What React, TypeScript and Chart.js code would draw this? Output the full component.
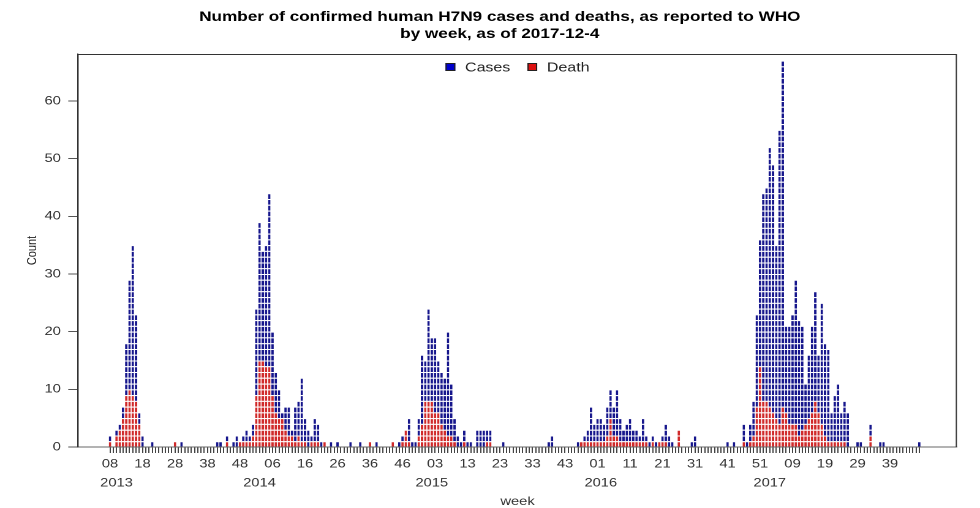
import React, { useEffect, useRef } from "react";
import { Chart, registerables } from "chart.js";
Chart.register(...registerables);

// ---------------- data ----------------
const YEARS = [2013, 2014, 2015, 2016, 2017];
const FIRST_WEEK = [8, 1, 1, 1, 1];
const LAST_WEEK = [52, 53, 52, 52, 48];
const YEAR_LABEL_WEEK = [10, 2, 2, 2, 2];

const cases2013 = [2, 0, 3, 4, 7, 18, 29, 35, 23, 6, 2, 0, 0, 1, 0, 0, 0, 0, 0, 0, 1, 0, 1, 0, 0, 0, 0, 0, 0, 0, 0, 0, 0, 1, 1, 0, 2, 0, 1, 2, 1, 2, 3, 2, 4];
const deaths2013 = [1, 0, 2, 3, 5, 9, 10, 9, 8, 4, 0, 0, 0, 0, 0, 0, 0, 0, 0, 0, 1, 0, 0, 0, 0, 0, 0, 0, 0, 0, 0, 0, 0, 0, 0, 0, 1, 0, 0, 0, 1, 1, 1, 1, 2];

const cases2014 = [24, 39, 34, 35, 44, 20, 13, 10, 6, 7, 7, 3, 7, 8, 12, 5, 3, 2, 5, 4, 1, 1, 0, 1, 0, 1, 0, 0, 0, 1, 0, 0, 1, 0, 0, 1, 0, 1, 0, 0, 0, 0, 1, 0, 1, 2, 3, 5, 1, 1, 5, 16, 15];
const deaths2014 = [9, 15, 15, 14, 14, 9, 6, 5, 5, 3, 2, 2, 1, 2, 1, 1, 0, 1, 1, 1, 0, 1, 0, 0, 0, 0, 0, 0, 0, 0, 0, 0, 0, 0, 0, 1, 0, 0, 0, 0, 0, 0, 1, 0, 0, 1, 3, 1, 0, 0, 2, 4, 8];

const cases2015 = [24, 19, 19, 15, 13, 12, 20, 11, 5, 2, 1, 3, 1, 1, 0, 3, 3, 3, 3, 3, 0, 0, 0, 1, 0, 0, 0, 0, 0, 0, 0, 0, 0, 0, 0, 0, 0, 1, 2, 0, 0, 0, 0, 0, 0, 0, 1, 1, 2, 3, 7, 4];
const deaths2015 = [8, 8, 6, 6, 4, 3, 2, 2, 1, 0, 0, 1, 0, 0, 0, 0, 0, 0, 1, 1, 0, 0, 0, 0, 0, 0, 0, 0, 0, 0, 0, 0, 0, 0, 0, 0, 0, 0, 0, 0, 0, 0, 0, 0, 0, 0, 0, 1, 1, 1, 1, 1];

const cases2016 = [5, 5, 4, 7, 10, 7, 10, 5, 3, 4, 5, 3, 3, 2, 5, 2, 1, 2, 1, 1, 2, 4, 2, 1, 0, 3, 0, 0, 0, 1, 2, 0, 0, 0, 0, 0, 0, 0, 0, 0, 1, 0, 1, 0, 0, 4, 1, 4, 8, 23, 36, 44];
const deaths2016 = [1, 1, 1, 2, 5, 2, 2, 1, 1, 1, 1, 1, 1, 1, 1, 1, 0, 1, 0, 1, 1, 1, 0, 0, 0, 3, 0, 0, 0, 0, 0, 0, 0, 0, 0, 0, 0, 0, 0, 0, 0, 0, 0, 0, 0, 1, 0, 1, 2, 7, 14, 8];

const cases2017 = [45, 52, 49, 35, 55, 67, 21, 21, 23, 29, 22, 21, 11, 16, 21, 27, 16, 25, 18, 17, 6, 9, 11, 6, 8, 6, 0, 0, 1, 1, 0, 0, 4, 0, 0, 1, 1, 0, 0, 0, 0, 0, 0, 0, 0, 0, 0, 1];
const deaths2017 = [8, 7, 6, 5, 4, 7, 6, 4, 4, 4, 2, 3, 4, 5, 6, 8, 6, 4, 2, 1, 1, 1, 1, 1, 1, 0, 0, 0, 0, 0, 0, 0, 2, 0, 0, 0, 0, 0, 0, 0, 0, 0, 0, 0, 0, 0, 0, 0];

const Y_TICKS = [0, 10, 20, 30, 40, 50, 60];
const TITLE_LINES = ["Number of confirmed human H7N9 cases and deaths, as reported to WHO", "by week, as of 2017-12-4"];
const LEGEND_LABELS = ["Cases", "Death"];

// ---------------- derived ----------------
const cases = [...cases2013, ...cases2014, ...cases2015, ...cases2016, ...cases2017];
const deaths = [...deaths2013, ...deaths2014, ...deaths2015, ...deaths2016, ...deaths2017];
const weekLabels: string[] = [];
const yearTicks: { value: number; label: string }[] = [];
YEARS.forEach((yr, j) => {
  for (let w = FIRST_WEEK[j]; w <= LAST_WEEK[j]; w++) {
    if (w === YEAR_LABEL_WEEK[j]) yearTicks.push({ value: weekLabels.length, label: String(yr) });
    weekLabels.push(String(w).padStart(2, "0"));
  }
});

const BLUE = "#16168c";
const RED = "#d02a2a";
const FONT = "'Liberation Sans', Arial, Helvetica, sans-serif";
const CW = 800; // canvas logical width (displayed stretched to 980)
const CH = 508;
const X_MIN = -9.84;
const X_MAX = 260.6;
const Y_MAX = 68.15;

const levels = Math.max(...cases, ...deaths);
const datasets: any[] = [];
for (let k = 1; k <= levels; k++) {
  datasets.push({
    label: "u" + k,
    data: cases.map((c, i) => ({ x: i, y: Math.max(c, deaths[i]) >= k ? 1 : null })),
    backgroundColor: cases.map((_, i) => (deaths[i] >= k ? RED : BLUE)),
    borderColor: "#ffffff",
    borderWidth: { top: 1, left: 0, right: 0, bottom: 0 },
    borderSkipped: false,
    inflateAmount: 0,
    barPercentage: 1,
    categoryPercentage: 0.75,
  });
}

const decorPlugin = {
  id: "decor",
  afterDraw(chart: any) {
    const { ctx, chartArea: ca } = chart;
    ctx.save();
    // frame
    ctx.strokeStyle = "#333";
    ctx.lineWidth = 1;
    ctx.beginPath();
    ctx.moveTo(ca.left, ca.bottom);
    ctx.lineTo(ca.left, ca.top + 0.5);
    ctx.lineTo(ca.right - 0.5, ca.top + 0.5);
    ctx.lineTo(ca.right - 0.5, ca.bottom);
    ctx.stroke();
    // title
    ctx.fillStyle = "#000";
    ctx.font = `bold 14px ${FONT}`;
    ctx.textAlign = "center";
    ctx.textBaseline = "middle";
    ctx.fillText(TITLE_LINES[0], 408, 17);
    ctx.fillText(TITLE_LINES[1], 408, 34);
    // legend
    ctx.font = `13px ${FONT}`;
    ctx.textAlign = "left";
    const sq = 8, gap = 8, between = 14;
    const w0 = ctx.measureText(LEGEND_LABELS[0]).width;
    const w1 = ctx.measureText(LEGEND_LABELS[1]).width;
    const total = sq + gap + w0 + between + sq + gap + w1;
    let x = (ca.left + ca.right) / 2 - total / 2;
    const y = 67;
    const colors = ["#0000cc", "#dd1111"];
    [w0, w1].forEach((tw, idx) => {
      ctx.fillStyle = colors[idx];
      ctx.fillRect(x, y - sq / 2, sq, sq);
      ctx.strokeStyle = "#222";
      ctx.strokeRect(x + 0.5, y - sq / 2 + 0.5, sq - 1, sq - 1);
      ctx.fillStyle = "#222";
      ctx.fillText(LEGEND_LABELS[idx], x + sq + gap, y + 1);
      x += sq + gap + tw + between;
    });
    ctx.restore();
  },
};

export default function App() {
  const ref = useRef<HTMLCanvasElement>(null);
  useEffect(() => {
    if (!ref.current) return;
    const chart = new Chart(ref.current, {
      type: "bar",
      data: { datasets },
      options: {
        animation: false,
        responsive: false,
        devicePixelRatio: 2,
        events: [],
        layout: { padding: { top: 54, right: 18.8, left: 0, bottom: 0 } },
        plugins: { legend: { display: false }, tooltip: { enabled: false }, title: { display: false } },
        scales: {
          x: {
            type: "linear",
            min: X_MIN,
            max: X_MAX,
            stacked: true,
            offset: false,
            afterBuildTicks: (s: any) => {
              s.ticks = weekLabels.map((_, i) => ({ value: i }));
            },
            afterFit: (s: any) => {
              s.height = 24;
            },
            ticks: {
              autoSkip: false,
              maxRotation: 0,
              minRotation: 0,
              padding: 4,
              color: "#333",
              font: { size: 12, family: FONT },
              callback: (_v: any, i: number) => (i % 10 === 0 ? weekLabels[i] : ""),
            },
            grid: { display: true, offset: false, drawOnChartArea: false, drawTicks: true, tickLength: 6, color: "#444", lineWidth: 1 },
            border: { display: true, color: "#666", width: 1 },
          },
          x2: {
            type: "linear",
            position: "bottom",
            min: X_MIN,
            max: X_MAX,
            offset: false,
            afterBuildTicks: (s: any) => {
              s.ticks = yearTicks.map((t) => ({ value: t.value }));
            },
            afterFit: (s: any) => {
              s.height = 37;
            },
            ticks: {
              autoSkip: false,
              maxRotation: 0,
              padding: 5,
              color: "#333",
              font: { size: 12, family: FONT },
              callback: (_v: any, i: number) => yearTicks[i]?.label ?? "",
            },
            grid: { display: false, drawTicks: false, tickLength: 0 },
            border: { display: false },
            title: { display: true, text: "week", color: "#333", font: { size: 12, family: FONT }, padding: { top: 0, bottom: -1 } },
          },
          y: {
            type: "linear",
            min: 0,
            max: Y_MAX,
            stacked: true,
            afterBuildTicks: (s: any) => {
              s.ticks = Y_TICKS.map((v) => ({ value: v }));
            },
            afterFit: (s: any) => {
              s.width = 63.7;
            },
            ticks: { padding: 6, color: "#333", font: { size: 12, family: FONT } },
            grid: { drawOnChartArea: false, drawTicks: true, tickLength: 8, color: "#555" },
            border: { display: true, color: "#333", width: 1 },
            title: { display: true, text: "Count", color: "#222", font: { size: 11, family: FONT }, padding: { top: 20, bottom: 0 } },
          },
        },
      },
      plugins: [decorPlugin],
    } as any);
    return () => chart.destroy();
  }, []);
  return (
    <div style={{ position: "fixed", left: 0, top: 0, width: 980, height: CH, background: "#fff" }}>
      <canvas ref={ref} width={CW} height={CH} style={{ width: "980px", height: CH + "px", display: "block" }} />
    </div>
  );
}
